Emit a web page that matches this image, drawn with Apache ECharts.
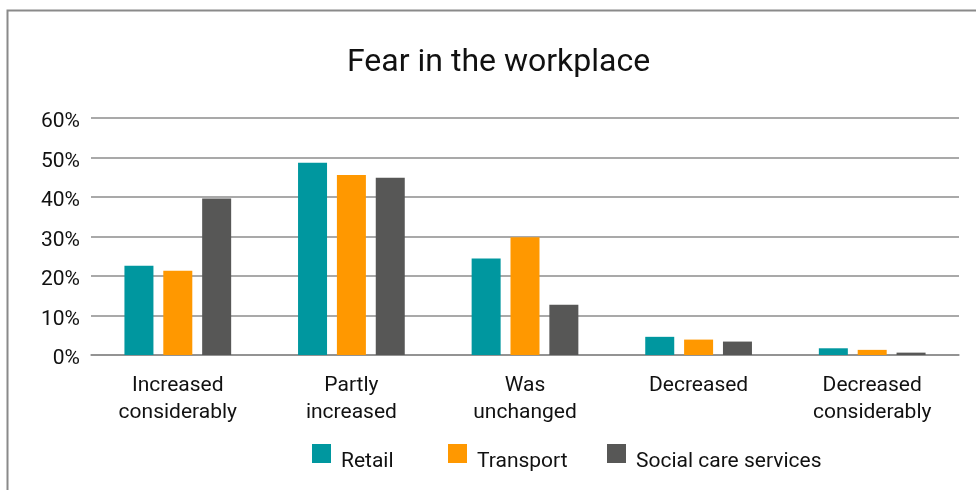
<!DOCTYPE html>
<html>
<head>
<meta charset="utf-8">
<script src="https://cdn.jsdelivr.net/npm/echarts@6/dist/echarts.min.js"></script>
<style>
  html, body { margin: 0; padding: 0; background: #fff; }
  #chart { width: 976px; height: 490px; }
</style>
</head>
<body>
<div id="chart"></div>
<script>
// Share of respondents (%) by change in fear at work
const categories = ['Increased\nconsiderably', 'Partly\nincreased', 'Was\nunchanged', 'Decreased', 'Decreased\nconsiderably'];
const retail = [22.6, 48.7, 24.4, 4.6, 1.7];
const transport = [21.3, 45.6, 29.8, 3.9, 1.3];
const socialCare = [39.6, 44.9, 12.7, 3.4, 0.6];
const yTicks = [0, 10, 20, 30, 40, 50, 60];

const seriesNames = ['Retail', 'Transport', 'Social care services'];
const seriesColors = ['#00979F', '#FF9800', '#575756'];
const seriesData = [retail, transport, socialCare];
const legendLeft = [312, 448, 607];

const chart = echarts.init(document.getElementById('chart'), null, { renderer: 'canvas' });
const font = 'Roboto, "Noto Sans", sans-serif';

chart.setOption({
  animation: false,
  backgroundColor: '#fff',
  textStyle: { fontFamily: font },
  title: {
    text: 'Fear in the workplace',
    left: 342,
    top: 42,
    textStyle: { fontFamily: font, fontSize: 32, fontWeight: 'normal', color: '#111' }
  },
  graphic: [{
    type: 'rect',
    shape: { x: 7.5, y: 10.5, width: 1200, height: 800 },
    style: { fill: 'none', stroke: '#8a8a8a', lineWidth: 2 },
    silent: true
  }],
  // one legend block per series so each entry sits at its own spot;
  // the label text sits a little below the swatch centre
  legend: seriesNames.map((name, i) => ({
    data: [name],
    top: 439,
    left: legendLeft[i] - 5,
    itemWidth: 19,
    itemHeight: 19,
    icon: 'rect',
    formatter: '{t|{name}}',
    textStyle: {
      fontFamily: font, fontSize: 21, color: '#111',
      rich: { t: { fontFamily: font, fontSize: 21, color: '#111', padding: [17, 0, 0, 5] } }
    }
  })),
  grid: { left: 91, right: 17, top: 118, bottom: 135, containLabel: false },
  xAxis: {
    type: 'category',
    data: categories,
    axisLine: { show: true, lineStyle: { color: '#8c8c8c', width: 1.5 } },
    axisTick: { show: false },
    axisLabel: { fontFamily: font, fontSize: 21, color: '#111', lineHeight: 27, margin: 17 }
  },
  yAxis: {
    type: 'value',
    min: yTicks[0],
    max: yTicks[yTicks.length - 1],
    interval: 10,
    axisLine: { show: false },
    axisTick: { show: false },
    splitLine: { lineStyle: { color: '#8c8c8c', width: 1.5 } },
    axisLabel: {
      fontFamily: font, fontSize: 21, color: '#111', margin: 11,
      formatter: '{v|{value}%}',
      rich: { v: { fontFamily: font, fontSize: 21, color: '#111', padding: [8, 0, 0, 0] } }
    }
  },
  series: seriesNames.map((name, i) => ({
    name: name,
    type: 'bar',
    data: seriesData[i],
    barWidth: 29,
    barGap: '34%',
    itemStyle: { color: seriesColors[i] }
  }))
});
</script>
</body>
</html>
